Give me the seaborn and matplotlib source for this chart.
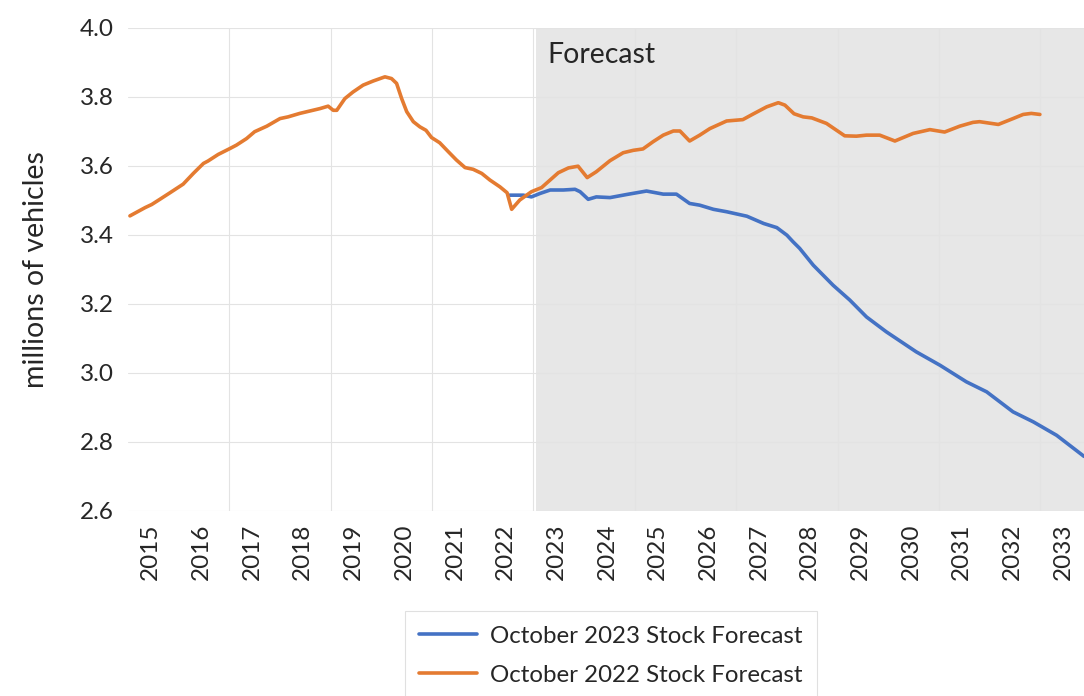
import pandas as pd
import matplotlib
matplotlib.use("Agg")
import matplotlib.pyplot as plt
import seaborn as sns

# Display settings
sns.set_theme(style="white")
plt.rcParams["font.family"] = ["Lato", "DejaVu Sans"]

# October 2022 stock forecast (millions of vehicles)
years_2022 = [
    2015.04, 2015.34, 2015.47, 2015.63, 2015.83, 2016.09, 2016.29, 2016.49, 2016.58, 2016.78,
    2017.01, 2017.14, 2017.34, 2017.50, 2017.74, 2018.00, 2018.16, 2018.39, 2018.59, 2018.79,
    2018.95, 2019.05, 2019.12, 2019.28, 2019.44, 2019.64, 2019.84, 2020.07, 2020.20, 2020.30,
    2020.40, 2020.50, 2020.63, 2020.76, 2020.88, 2020.99, 2021.15, 2021.32, 2021.48, 2021.65,
    2021.81, 2021.98, 2022.14, 2022.34, 2022.48, 2022.57, 2022.73, 2022.96, 2023.16, 2023.49,
    2023.69, 2023.88, 2024.06, 2024.24, 2024.51, 2024.77, 2024.97, 2025.16, 2025.36, 2025.56,
    2025.76, 2025.89, 2026.08, 2026.28, 2026.48, 2026.81, 2027.13, 2027.33, 2027.60, 2027.83,
    2027.96, 2028.14, 2028.32, 2028.49, 2028.78, 2029.14, 2029.37, 2029.57, 2029.83, 2030.13,
    2030.49, 2030.82, 2031.11, 2031.41, 2031.67, 2031.80, 2032.17, 2032.46, 2032.66, 2032.82,
    2032.99,
]
stock_2022 = [
    3.455, 3.479, 3.488, 3.503, 3.522, 3.547, 3.578, 3.607, 3.614, 3.633,
    3.650, 3.660, 3.679, 3.699, 3.715, 3.737, 3.742, 3.752, 3.759, 3.766,
    3.773, 3.761, 3.761, 3.795, 3.814, 3.834, 3.846, 3.858, 3.853, 3.839,
    3.795, 3.757, 3.728, 3.713, 3.703, 3.682, 3.667, 3.641, 3.617, 3.595,
    3.590, 3.578, 3.559, 3.539, 3.522, 3.474, 3.501, 3.525, 3.537, 3.580,
    3.594, 3.599, 3.566, 3.583, 3.615, 3.638, 3.645, 3.649, 3.670, 3.689,
    3.701, 3.701, 3.672, 3.689, 3.708, 3.730, 3.734, 3.750, 3.771, 3.783,
    3.776, 3.751, 3.742, 3.739, 3.723, 3.687, 3.686, 3.689, 3.689, 3.672,
    3.694, 3.705, 3.698, 3.715, 3.726, 3.728, 3.720, 3.737, 3.749, 3.752,
    3.749,
]

# October 2023 stock forecast
years_2023 = [
    2022.53, 2022.80, 2022.96, 2023.13, 2023.33, 2023.59, 2023.82, 2023.92, 2024.08, 2024.24,
    2024.51, 2024.84, 2025.23, 2025.56, 2025.82, 2026.08, 2026.28, 2026.55, 2026.81, 2027.21,
    2027.54, 2027.80, 2028.00, 2028.12, 2028.25, 2028.52, 2028.91, 2029.24, 2029.57, 2029.96,
    2030.55, 2031.02, 2031.54, 2031.94, 2032.46, 2032.86, 2033.32, 2033.86,
]
stock_2023 = [
    3.515, 3.515, 3.510, 3.520, 3.530, 3.530, 3.532, 3.525, 3.503, 3.510,
    3.508, 3.517, 3.527, 3.518, 3.518, 3.491, 3.486, 3.474, 3.467, 3.454,
    3.433, 3.421, 3.399, 3.380, 3.361, 3.312, 3.254, 3.211, 3.162, 3.119,
    3.061, 3.022, 2.974, 2.945, 2.887, 2.858, 2.819, 2.758,
]

year_labels = [str(y) for y in range(2015, 2034)]
y_ticks = [2.6, 2.8, 3.0, 3.2, 3.4, 3.6, 3.8, 4.0]
forecast_start = 2023.05

df_2022 = pd.DataFrame({"year": years_2022, "stock": stock_2022})
df_2023 = pd.DataFrame({"year": years_2023, "stock": stock_2023})

fig = plt.figure(figsize=(10.84, 6.96), dpi=100)
ax = fig.add_axes([0.118, 0.266, 0.882, 0.694])

ax.axvspan(forecast_start, 2033.86, color="#e7e7e7", lw=0, zorder=0)

sns.lineplot(data=df_2023, x="year", y="stock", ax=ax, color="#4472c4", lw=2.6,
             label="October 2023 Stock Forecast", zorder=3)
sns.lineplot(data=df_2022, x="year", y="stock", ax=ax, color="#e47b31", lw=2.6,
             label="October 2022 Stock Forecast", zorder=3)

ax.set_xlim(2015.0, 2033.86)
ax.set_ylim(2.6, 4.0)

# year labels sit mid-year, gridlines every second year
ax.set_xticks([int(y) + 0.45 for y in year_labels])
ax.set_xticklabels(year_labels, rotation=90, fontsize=17.5)
ax.set_xticks(list(range(2017, 2034, 2)), minor=True)
ax.set_yticks(y_ticks)
ax.set_yticklabels([f"{v:.1f}" for v in y_ticks], fontsize=17.5)
ax.tick_params(axis="both", which="both", length=0)
ax.tick_params(axis="x", pad=9)
ax.tick_params(axis="y", pad=10)

ax.grid(axis="x", which="minor", color="#e3e3e3", lw=0.8, zorder=1)
ax.grid(axis="y", which="major", color="#e3e3e3", lw=0.8, zorder=1)
ax.grid(axis="x", which="major", visible=False)
ax.set_axisbelow(True)
for s in ax.spines.values():
    s.set_visible(False)

ax.set_xlabel("")
ax.set_ylabel("millions of vehicles", fontsize=20.5, labelpad=22)

ax.text(2023.28, 3.921, "Forecast", fontsize=20.5, va="center", ha="left", zorder=4)

leg = ax.legend(loc="upper center", bbox_to_anchor=(0.505, -0.183), frameon=True,
                fancybox=False, fontsize=17.3, handlelength=2.4, handletextpad=0.55,
                labelspacing=0.75, borderpad=0.6)
leg.get_frame().set_edgecolor("#d9d9d9")
leg.get_frame().set_linewidth(0.8)

fig.savefig("out.png", dpi=100)
